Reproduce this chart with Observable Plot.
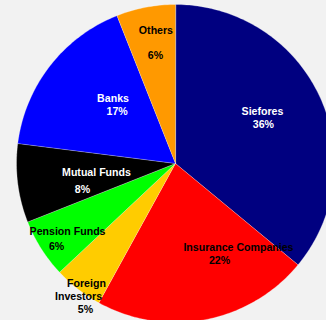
<!DOCTYPE html>
<html>
<head>
<meta charset="utf-8">
<script src="https://cdn.jsdelivr.net/npm/d3@7"></script>
<script src="https://cdn.jsdelivr.net/npm/@observablehq/plot@0.6"></script>
<style>
  html, body { margin: 0; padding: 0; background: #f2f2f2; overflow: hidden; }
  #chart svg { display: block; }
</style>
</head>
<body>
<div id="chart"></div>
<script>
// Data
const categories = ["Siefores", "Insurance Companies", "Foreign Investors", "Pension Funds", "Mutual Funds", "Banks", "Others"];
const shares = [36, 22, 5, 6, 8, 17, 6];
const sliceColors = ["#000080", "#ff0000", "#ffcc00", "#00ff00", "#000000", "#0000ff", "#ff9900"];

// Label text lines (layout in pie units, -1..1)
const labelLines = ["Siefores", "36%", "Insurance Companies", "22%", "Foreign", "Investors", "5%", "Pension Funds", "6%", "Mutual Funds", "8%", "Banks", "17%", "Others", "6%"];
const labelX = [0.547, 0.553, 0.396, 0.277, -0.560, -0.610, -0.566, -0.679, -0.748, -0.497, -0.585, -0.393, -0.367, -0.123, -0.126];
const labelY = [0.327, 0.245, -0.528, -0.610, -0.755, -0.836, -0.918, -0.426, -0.522, -0.055, -0.164, 0.409, 0.327, 0.836, 0.679];
const labelFill = ["white", "white", "black", "black", "black", "black", "black", "black", "black", "white", "white", "white", "white", "black", "black"];

// Build slice polygons from d3.pie angles
const arcs = d3.pie().sort(null).startAngle(0).endAngle(2 * Math.PI)(shares);
const pts = [];
arcs.forEach((a, i) => {
  const cat = categories[i];
  pts.push({cat, x: 0, y: 0});
  const n = Math.max(4, Math.ceil((a.endAngle - a.startAngle) / (Math.PI / 180)));
  for (let k = 0; k <= n; k++) {
    const t = a.startAngle + (a.endAngle - a.startAngle) * k / n;
    pts.push({cat, x: Math.sin(t), y: Math.cos(t)});
  }
});

const labels = labelLines.map((t, i) => ({t, x: labelX[i], y: labelY[i], f: labelFill[i]}));

const chart = Plot.plot({
  width: 326,
  height: 320,
  margin: 0,
  style: {background: "#f2f2f2", fontFamily: "'Liberation Sans', Arial, sans-serif"},
  x: {domain: [-1, 1], range: [16, 334], axis: null},
  y: {domain: [-1, 1], range: [322, 4], axis: null},
  color: {domain: categories, range: sliceColors},
  marks: [
    Plot.line(pts, {x: "x", y: "y", z: "cat", fill: "cat", stroke: "white", strokeWidth: 0.4, strokeOpacity: 0.7, curve: "linear-closed"}),
    Plot.text(labels, {x: "x", y: "y", text: "t", fill: "f", fontSize: 10.6, fontWeight: "bold"})
  ]
});
document.getElementById("chart").appendChild(chart);
</script>
</body>
</html>
